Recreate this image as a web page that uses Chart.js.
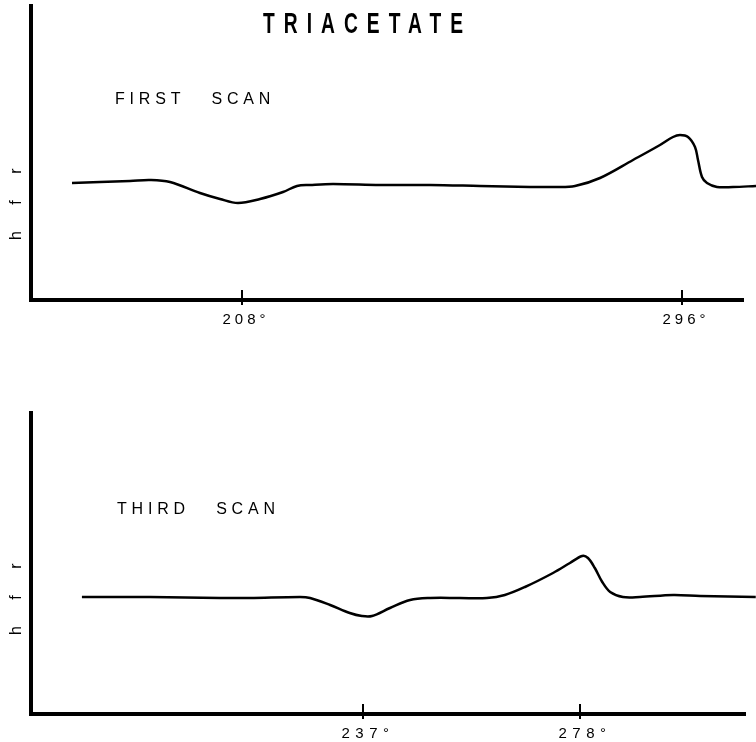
<!DOCTYPE html>
<html><head><meta charset="utf-8">
<script src="https://cdn.jsdelivr.net/npm/chart.js@4/dist/chart.umd.min.js"></script>
<style>
html,body{margin:0;padding:0;background:#fff;}
#wrap{position:relative;width:756px;height:742px;overflow:hidden;}
.p{position:absolute;left:0;width:756px;}
</style></head><body>
<div id="wrap">
<div class="p" style="top:0;height:370px"><canvas id="c1" width="756" height="370"></canvas></div>
<div class="p" style="top:370px;height:372px"><canvas id="c2" width="756" height="372"></canvas></div>
</div>
<script>
// ---- text ----
const chartTitle = 'TRIACETATE';
const yAxisLabel = 'h f r';
const firstScanLabel = 'FIRST SCAN';
const thirdScanLabel = 'THIRD SCAN';

// ---- tick values / labels (degrees) ----
const firstTicks = [208, 296];
const firstTickLabels = ['208°', '296°'];
const thirdTicks = [237, 278];
const thirdTickLabels = ['237°', '278°'];

// ---- first scan: temperature (deg) vs hfr (arbitrary units) ----
const firstTemp = [174.0, 179.6, 185.6, 189.6, 193.6, 199.6, 203.6, 207.2, 211.6, 216.2, 219.0, 221.6, 226.2, 235.6, 245.6, 255.6, 265.6, 270.6, 274.6, 279.6, 286.2, 291.6, 294.2, 295.6, 297.2, 298.6, 299.2, 300.0, 301.0, 303.0, 306.2, 310.8];
const firstHfr  = [117, 118, 119, 120, 118, 107, 101, 97, 101, 108, 114, 115, 116, 115, 115, 114, 113, 113, 114, 122, 140, 155, 163, 165, 163, 153, 140, 123, 117, 113, 113, 114];

// ---- third scan ----
const thirdTemp = [183.9, 196.8, 210.0, 215.6, 225.1, 227.0, 230.8, 234.5, 236.8, 238.7, 242.1, 245.9, 249.7, 255.3, 260.4, 263.8, 267.6, 272.9, 276.1, 278.4, 279.5, 280.8, 282.2, 283.7, 286.1, 289.3, 295.6, 300.7, 311.2];
const thirdHfr  = [117, 117, 116, 116, 117, 116, 109, 101, 98, 98, 106, 114, 116, 116, 116, 119, 127, 141, 151, 158, 156, 146, 132, 122, 117, 117, 119, 118, 117];

const FONT = '"Liberation Sans", "DejaVu Sans", sans-serif';

function toPoints(xs, ys) { return xs.map((x, i) => ({x: x, y: ys[i]})); }

function panelPlugin(cfg) {
  return {
    id: 'panelDeco',
    beforeDraw(chart) { chart.ctx.letterSpacing = cfg.tickSpacing + 'px'; },
    afterDraw(chart) {
      const ctx = chart.ctx, xs = chart.scales.x, a = chart.chartArea;
      ctx.save();
      ctx.letterSpacing = '0px';
      // tick crosses through the axis
      ctx.strokeStyle = '#000'; ctx.lineWidth = 2;
      cfg.ticks.forEach(v => {
        const px = Math.round(xs.getPixelForValue(v));
        ctx.beginPath(); ctx.moveTo(px, a.bottom - 10); ctx.lineTo(px, a.bottom + 5); ctx.stroke();
      });
      ctx.fillStyle = '#000';
      // title (bold, horizontally condensed)
      if (cfg.title) {
        const sx = 0.64;
        ctx.save();
        ctx.font = 'bold 30px ' + FONT;
        ctx.textBaseline = 'alphabetic'; ctx.textAlign = 'left';
        const w = ctx.measureText(cfg.title.text).width * sx;
        const s = (cfg.title.span - w) / (cfg.title.text.length - 1);
        ctx.translate(cfg.title.x, cfg.title.y);
        ctx.scale(sx, 1);
        ctx.letterSpacing = (s / sx) + 'px';
        ctx.fillText(cfg.title.text, 0, 0);
        ctx.restore();
      }
      // scan label
      ctx.font = '16px ' + FONT;
      ctx.textBaseline = 'alphabetic'; ctx.textAlign = 'left';
      ctx.letterSpacing = '4.8px';
      ctx.wordSpacing = '17px';
      ctx.fillText(cfg.label.text, cfg.label.x, cfg.label.y);
      ctx.wordSpacing = '0px';
      // rotated y label
      ctx.save();
      ctx.translate(cfg.ylab.x, cfg.ylab.y);
      ctx.rotate(-Math.PI / 2);
      ctx.font = '16px ' + FONT;
      ctx.letterSpacing = '11px';
      ctx.fillText(yAxisLabel, 0, 0);
      ctx.restore();
      ctx.restore();
    }
  };
}

function makeChart(id, xs, ys, ticks, tickLabels, xmin, xmax, ymax, padding, xHeight, labelOffset, deco) {
  return new Chart(document.getElementById(id), {
    type: 'line',
    data: { datasets: [{
      data: toPoints(xs, ys),
      borderColor: '#000', borderWidth: 2.5, pointRadius: 0,
      tension: 0.35, fill: false, clip: false
    }]},
    options: {
      responsive: false, animation: false, devicePixelRatio: 1,
      layout: { padding: padding },
      plugins: { legend: { display: false }, tooltip: { enabled: false }, title: { display: false } },
      scales: {
        x: {
          type: 'linear', position: 'bottom', min: xmin, max: xmax,
          afterBuildTicks: (s) => { s.ticks = ticks.map(v => ({value: v})); },
          afterFit: (s) => { s.height = xHeight; },
          grid: { display: false },
          border: { display: true, width: 4, color: '#000' },
          ticks: {
            autoSkip: false, maxRotation: 0, padding: 3, color: '#000', labelOffset: labelOffset,
            font: { family: FONT, size: 15 },
            callback: (v, i) => tickLabels[i]
          }
        },
        y: {
          type: 'linear', min: 0, max: ymax,
          afterFit: (s) => { s.width = 0; },
          grid: { display: false },
          border: { display: true, width: 4, color: '#000' },
          ticks: { display: false }
        }
      }
    },
    plugins: [panelPlugin(deco)]
  });
}

makeChart('c1', firstTemp, firstHfr, firstTicks, firstTickLabels, 165.8, 308.2, 294,
  { left: 31, right: 13, top: 6, bottom: 30 }, 40, 4,
  { ticks: firstTicks, tickSpacing: 4,
    title: { text: chartTitle, x: 263, y: 33, span: 200 },
    label: { text: firstScanLabel, x: 115, y: 104 },
    ylab: { x: 21, y: 240 } });

makeChart('c2', thirdTemp, thirdHfr, thirdTicks, thirdTickLabels, 174.28, 309.17, 301,
  { left: 31, right: 11, top: 43, bottom: 0 }, 28, 5,
  { ticks: thirdTicks, tickSpacing: 5.5,
    label: { text: thirdScanLabel, x: 117, y: 144 },
    ylab: { x: 21, y: 265 } });
</script>
</body></html>
